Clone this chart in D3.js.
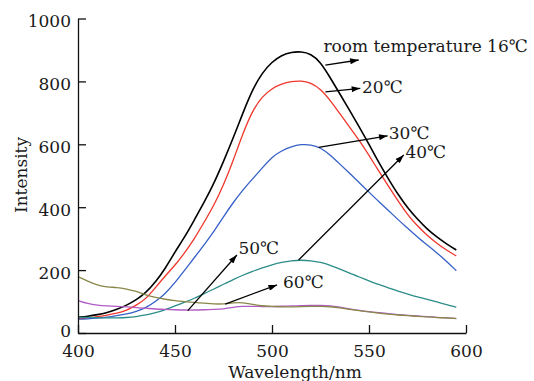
<!DOCTYPE html>
<html>
<head>
<meta charset="utf-8">
<script src="https://cdn.jsdelivr.net/npm/d3@7"></script>
<style>
  body { margin: 0; background: #fff; }
  svg text { font-family: "DejaVu Serif", serif; fill: #1a1a1a; }
  .axis path, .axis line { stroke: #111; stroke-width: 1.3; }
  .axis text { font-size: 17px; fill: #1a1a1a; }
  .curve { fill: none; }
  .pointer { stroke: #000; stroke-width: 1.3; }
</style>
</head>
<body>
<div id="chart"></div>
<script>
// wavelength grid (nm)
var wavelength = [400,405,410,415,420,425,430,435,440,445,450,455,460,465,470,475,480,485,490,495,
                  500,505,510,515,520,525,530,535,540,545,550,555,560,565,570,575,580,585,590,595];

// intensity of each spectrum
var room16 = [50,53,58,65,75,88,105,128,162,205,258,305,360,415,475,545,620,700,775,828,
              862,884,893,895,888,862,812,760,708,655,600,542,490,440,397,362,330,305,283,264];
var t20 = [45,48,52,57,62,72,88,108,145,182,215,255,300,352,405,470,548,635,708,752,
           778,792,800,802,796,776,740,697,655,612,565,515,467,420,375,340,310,285,263,245];
var t30 = [44,45,47,50,55,60,68,80,100,125,160,200,240,280,322,370,415,455,490,525,
           560,580,593,600,599,590,566,537,508,478,448,418,390,360,333,305,280,255,228,198];
var t40 = [50,50,49,48,48,49,52,57,64,74,86,98,110,125,140,155,170,184,196,207,
           217,225,230,232,230,225,216,203,190,178,166,154,144,133,124,115,107,99,90,82];
var t50 = [103,93,88,86,85,83,81,79,76,75,74,73,73,74,75,76,82,85,85,84,
           84,85,86,87,88,88,87,82,77,72,68,65,62,58,56,54,52,50,48,46];
var t60 = [179,165,152,146,145,140,133,120,113,107,103,100,97,95,92,92,96,97,91,86,
           85,83,83,84,85,85,84,80,75,71,67,63,60,57,55,53,51,49,48,46];

var seriesNames = ["room16", "t20", "t30", "t40", "t50", "t60"];
var seriesValues = [room16, t20, t30, t40, t50, t60];
var seriesColors = ["#000000", "#f0352a", "#3560c8", "#2b8c88", "#b05cc4", "#8a874a"];

var xTicks = [400, 450, 500, 550, 600];
var yTicks = [0, 200, 400, 600, 800, 1000];

// annotation labels and their arrows (data units: wavelength, intensity)
var labelText = ["room temperature 16\u2103", "20\u2103", "30\u2103", "40\u2103", "50\u2103", "60\u2103"];
var labelAt = [[526.5, 894], [546.4, 763], [560.2, 617], [568.8, 556], [482.7, 252], [505.7, 143]];
var arrowFrom = [[527.5, 852], [527.5, 767], [524, 590], [513.7, 232], [456.6, 71], [475.9, 92]];
var arrowTo = [[544.7, 868], [545.5, 778], [559.6, 627], [567.9, 566], [481.9, 248], [502.6, 153]];

var W = 534, H = 381;

var svg = d3.select("#chart").append("svg")
    .attr("width", W)
    .attr("height", H);

var x = d3.scaleLinear().domain([400, 600]).range([78, 466]);
var y = d3.scaleLinear().domain([0, 1000]).range([333, 18.5]);

// arrow head
svg.append("defs").append("marker")
    .attr("id", "head")
    .attr("viewBox", "0 0 10 7")
    .attr("refX", 10)
    .attr("refY", 3.5)
    .attr("markerUnits", "userSpaceOnUse")
    .attr("markerWidth", 10)
    .attr("markerHeight", 6)
    .attr("orient", "auto")
    .append("path")
    .attr("d", "M0,0 L10,3.5 L0,7 Z")
    .attr("fill", "#000");

// curves
var line = d3.line()
    .curve(d3.curveBasis)
    .x(function(d) { return x(d[0]); })
    .y(function(d) { return y(d[1]); });

seriesValues.forEach(function(vals, i) {
    svg.append("path")
        .datum(wavelength.map(function(w, j) { return [w, vals[j]]; }))
        .attr("class", "curve " + seriesNames[i])
        .attr("stroke", seriesColors[i])
        .attr("stroke-width", i === 0 ? 1.6 : 1.3)
        .attr("d", line);
});

// axes
var xAxis = d3.axisBottom(x).tickValues(xTicks).tickSizeInner(-8).tickSizeOuter(0).tickPadding(12);
var yAxis = d3.axisLeft(y).tickValues(yTicks).tickFormat(d3.format("d"))
    .tickSizeInner(-8).tickSizeOuter(0).tickPadding(7);

svg.append("g")
    .attr("class", "axis x-axis")
    .attr("transform", "translate(0," + y(0) + ")")
    .call(xAxis);

svg.append("g")
    .attr("class", "axis y-axis")
    .attr("transform", "translate(" + x(400) + ",0)")
    .call(yAxis)
    .selectAll("text")
    .attr("dy", function(d) { return d === 0 ? "0.22em" : "0.48em"; });

svg.selectAll(".axis text").attr("font-family", null);

// axis titles
svg.append("text")
    .attr("x", 295)
    .attr("y", 378)
    .attr("text-anchor", "middle")
    .style("font-size", "17px")
    .text("Wavelength/nm");

svg.append("text")
    .attr("transform", "translate(27,175) rotate(-90)")
    .attr("text-anchor", "middle")
    .style("font-size", "17px")
    .text("Intensity");

// annotations
labelText.forEach(function(t, i) {
    svg.append("line")
        .attr("class", "pointer")
        .attr("x1", x(arrowFrom[i][0]))
        .attr("y1", y(arrowFrom[i][1]))
        .attr("x2", x(arrowTo[i][0]))
        .attr("y2", y(arrowTo[i][1]))
        .attr("marker-end", "url(#head)");

    svg.append("text")
        .attr("x", x(labelAt[i][0]))
        .attr("y", y(labelAt[i][1]))
        .style("font-size", "17px")
        .text(t);
});
</script>
</body>
</html>
